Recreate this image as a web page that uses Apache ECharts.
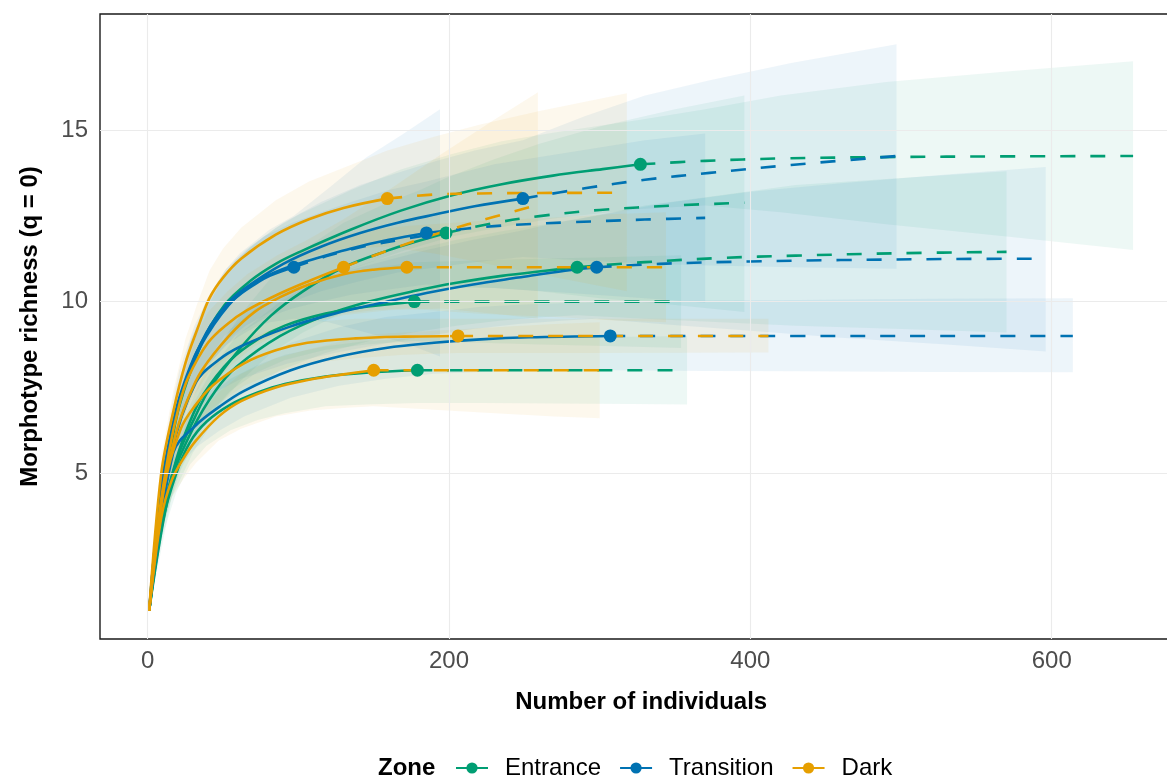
<!DOCTYPE html>
<html><head><meta charset="utf-8">
<script src="https://cdn.jsdelivr.net/npm/echarts@6/dist/echarts.min.js"></script>
<style>html,body{margin:0;padding:0;background:#fff;overflow:hidden;width:1167px;height:778px}#chart{width:1183px;height:778px}</style>
</head><body><div id="chart"></div>
<script>
// ---- data: each point is [individuals, estimate, lowerCI, upperCI] ----
const zones = ['Entrance', 'Transition', 'Dark'];

const entrance1 = [[1,1,1,1],[18,6.4,5.9,6.9],[35,8.7,7.95,9.45],[51,9.9,9.0,10.8],[68,10.6,9.6,11.6],[85,11.1,10.05,12.15],[101,11.45,10.35,12.55],[135,12.1,10.95,13.25],[168,12.65,11.45,13.85],[202,13.1,11.9,14.3],[235,13.42,12.17,14.67],[269,13.67,12.42,14.92],[302,13.86,12.58,15.14],[327,14.0,12.7,15.3],[370,14.1,12.8,15.6],[420,14.17,12.6,16.0],[490,14.21,12.25,16.4],[570,14.23,11.9,16.7],[654,14.24,11.5,17.0]];
const entrance2 = [[1,1,1,1],[11,4.0,3.6,4.4],[21,5.6,5.0,6.2],[31,6.6,5.9,7.3],[41,7.45,6.65,8.25],[62,8.67,7.7,9.64],[82,9.6,8.5,10.7],[103,10.3,9.1,11.5],[130,11.0,9.7,12.3],[160,11.5,10.1,12.9],[180,11.77,10.3,13.24],[198,12.0,10.4,13.6],[230,12.29,10.4,14.15],[260,12.49,10.3,14.6],[300,12.67,10.1,15.1],[350,12.8,9.9,15.6],[396,12.88,9.7,16.0]];
const entrance3 = [[1,1,1,1],[16,4.8,4.3,5.3],[30,6.3,5.6,7.0],[45,7.4,6.6,8.2],[59,8.1,7.2,9.0],[88,9.0,8.0,10.0],[118,9.6,8.5,10.7],[147,10.0,8.85,11.15],[176,10.3,9.1,11.5],[205,10.55,9.3,11.8],[235,10.75,9.45,12.05],[264,10.9,9.55,12.25],[285,11.0,9.6,12.4],[330,11.15,9.5,12.8],[380,11.27,9.4,13.1],[430,11.34,9.3,13.4],[500,11.41,9.2,13.6],[570,11.45,9.1,13.8]];
const entrance4 = [[1,1,1,1],[10,3.8,3.4,4.2],[19,5.4,4.8,6.0],[28,6.5,5.8,7.2],[37,7.3,6.5,8.1],[55,8.3,7.4,9.2],[73,8.9,7.95,9.85],[91,9.3,8.3,10.3],[118,9.65,8.6,10.7],[145,9.85,8.75,10.95],[177,10.0,8.85,11.15],[220,10.0,8.8,11.2],[260,10.0,8.75,11.25],[310,10.0,8.7,11.3],[354,10.0,8.65,11.35]];
const entrance5 = [[1,1,1,1],[10,3.6,3.2,4.0],[19,5.0,4.45,5.55],[28,5.9,5.25,6.55],[39,6.5,5.8,7.2],[55,7.0,6.25,7.75],[73,7.35,6.55,8.15],[91,7.6,6.75,8.45],[118,7.82,6.95,8.7],[145,7.93,7.0,8.85],[179,8.0,7.05,8.95],[220,8.0,7.05,8.95],[270,8.0,7.03,8.97],[320,8.0,7.02,8.98],[358,8.0,7.0,9.0]];

const transition1 = [[1,1,1,1],[6,3.4,3.0,3.8],[11,5.1,4.5,5.7],[16,6.3,5.6,7.0],[21,7.2,6.4,8.0],[31,8.4,7.5,9.3],[41,9.2,8.2,10.2],[51,9.8,8.7,10.9],[61,10.2,9.0,11.4],[71,10.5,9.25,11.75],[81,10.75,9.4,12.1],[97,11.0,9.5,12.5],[120,11.34,9.4,13.3],[145,11.62,9.1,14.2],[170,11.82,8.8,14.9],[194,12.0,8.4,15.6]];
const transition2 = [[1,1,1,1],[10,4.9,4.4,5.4],[20,6.9,6.2,7.6],[29,8.1,7.3,8.9],[39,9.0,8.1,9.9],[58,10.1,9.0,11.2],[77,10.7,9.5,11.9],[96,11.05,9.8,12.3],[115,11.3,10.0,12.6],[135,11.55,10.2,12.9],[160,11.8,10.35,13.25],[185,12.0,10.5,13.5],[230,12.2,10.4,14.0],[280,12.31,10.25,14.35],[330,12.39,10.1,14.7],[370,12.44,9.97,14.9]];
const transition3 = [[1,1,1,1],[14,5.8,5.2,6.4],[27,7.9,7.1,8.7],[39,9.1,8.15,10.05],[52,9.9,8.85,10.95],[65,10.4,9.3,11.5],[90,11.1,9.9,12.3],[115,11.6,10.3,12.9],[141,12.0,10.6,13.4],[166,12.3,10.85,13.75],[192,12.55,11.0,14.1],[217,12.78,11.15,14.4],[249,13.0,11.3,14.7],[290,13.3,11.2,15.4],[330,13.55,11.1,16.0],[373,13.75,11.05,16.45],[427,13.98,11.0,16.95],[497,14.24,10.96,17.5]];
const transition4 = [[1,1,1,1],[16,5.6,5.0,6.2],[32,7.65,6.85,8.45],[47,8.3,7.4,9.2],[62,8.7,7.75,9.65],[93,9.25,8.2,10.3],[124,9.65,8.5,10.8],[154,9.95,8.75,11.15],[185,10.25,9.0,11.5],[216,10.5,9.2,11.8],[246,10.7,9.35,12.05],[277,10.9,9.45,12.35],[298,11.0,9.5,12.5],[340,11.1,9.35,12.85],[400,11.17,9.15,13.2],[460,11.21,8.95,13.45],[530,11.24,8.75,13.7],[596,11.25,8.55,13.92]];
const transition5 = [[1,1,1,1],[17,5.6,5.0,6.2],[32,6.4,5.75,7.05],[48,6.95,6.25,7.65],[64,7.4,6.65,8.15],[95,8.0,7.2,8.8],[127,8.4,7.55,9.25],[158,8.65,7.75,9.55],[190,8.8,7.9,9.7],[221,8.9,7.95,9.85],[253,8.96,8.0,9.92],[307,9.0,8.0,10.0],[370,9.0,7.98,10.03],[430,9.0,7.97,10.05],[520,9.0,7.95,10.08],[614,9.0,7.94,10.1]];

const dark1 = [[1,1,1,1],[9,5.0,4.5,5.5],[17,6.8,6.2,7.4],[25,8.2,7.5,8.9],[33,9.2,8.45,9.95],[41,10.1,9.3,10.9],[50,10.7,9.85,11.55],[62,11.25,10.35,12.15],[85,11.95,10.95,12.95],[107,12.4,11.3,13.5],[130,12.73,11.55,13.9],[159,13.0,11.6,14.4],[190,13.12,11.4,14.8],[220,13.15,11.15,15.15],[260,13.165,10.8,15.55],[318,13.17,10.3,16.07]];
const dark2 = [[1,1,1,1],[7,3.6,3.2,4.0],[14,5.6,5.0,6.2],[21,7.0,6.3,7.7],[27,7.8,7.0,8.6],[40,8.8,7.9,9.7],[53,9.35,8.4,10.3],[66,9.75,8.7,10.8],[86,10.2,9.05,11.35],[106,10.58,9.35,11.8],[130,11.0,9.6,12.4],[160,11.5,9.75,13.25],[195,12.02,9.8,14.3],[230,12.47,9.65,15.3],[259,12.82,9.5,16.1]];
const dark3 = [[1,1,1,1],[10,4.4,3.95,4.85],[19,6.2,5.6,6.8],[27,7.2,6.5,7.9],[36,8.0,7.2,8.8],[54,9.0,8.1,9.9],[71,9.7,8.7,10.7],[89,10.15,9.1,11.2],[107,10.5,9.4,11.6],[130,10.8,9.65,11.95],[150,10.93,9.75,12.1],[172,11.0,9.8,12.2],[220,11.0,9.65,12.35],[270,11.0,9.55,12.45],[310,11.0,9.45,12.55],[344,11.0,9.4,12.6]];
const dark4 = [[1,1,1,1],[11,4.6,4.1,5.1],[22,6.3,5.7,6.9],[32,7.0,6.35,7.65],[43,7.55,6.9,8.2],[64,8.2,7.55,8.85],[85,8.58,7.93,9.23],[106,8.8,8.2,9.4],[138,8.93,8.35,9.5],[170,8.98,8.45,9.5],[206,9.0,8.5,9.5],[250,9.0,8.5,9.5],[300,9.0,8.5,9.5],[360,9.0,8.51,9.5],[412,9.0,8.52,9.5]];
const dark5 = [[1,1,1,1],[9,3.7,3.3,4.1],[16,4.8,4.3,5.3],[24,5.45,4.85,6.05],[32,5.95,5.3,6.6],[47,6.65,5.95,7.35],[62,7.1,6.3,7.9],[85,7.5,6.65,8.35],[108,7.73,6.83,8.63],[130,7.88,6.9,8.85],[150,8.0,6.95,9.05],[190,8.0,6.85,9.15],[230,8.0,6.75,9.25],[270,8.0,6.65,9.35],[300,8.0,6.6,9.4]];

// observed sample size (end of the solid rarefaction part) per curve
const entranceObs = [327, 198, 285, 177, 179];
const transitionObs = [97, 185, 249, 298, 307];
const darkObs = [159, 130, 172, 206, 150];

const xTicks = [0, 200, 400, 600];
const yTicks = [5, 10, 15];

// ---- styling ----
const zoneColors = {Entrance: '#009E73', Transition: '#0072B2', Dark: '#E69F00'};
const zoneFills = {Entrance: 'rgba(0,158,115,0.07)', Transition: 'rgba(0,114,178,0.07)', Dark: 'rgba(230,159,0,0.07)'};
const FONT = '"Liberation Sans", Arial, Helvetica, sans-serif';

const groups = [
  {zone: 'Entrance', curves: [entrance1, entrance2, entrance3, entrance4, entrance5], obs: entranceObs},
  {zone: 'Transition', curves: [transition1, transition2, transition3, transition4, transition5], obs: transitionObs},
  {zone: 'Dark', curves: [dark1, dark2, dark3, dark4, dark5], obs: darkObs}
];

const series = [];

// gridlines
series.push({
  type: 'line', name: 'grid', data: [], silent: true, z: 0,
  markLine: {
    silent: true, symbol: ['none', 'none'], label: {show: false},
    lineStyle: {color: '#EBEBEB', width: 1.1, type: 'solid'},
    emphasis: {disabled: true},
    data: xTicks.map(v => ({xAxis: v})).concat(yTicks.map(v => ({yAxis: v})))
  }
});

// confidence bands
const allBands = [];
groups.forEach(g => g.curves.forEach(c => allBands.push({zone: g.zone, curve: c})));
series.push({
  type: 'custom', name: 'bands', silent: true, z: 1,
  data: allBands.map((b, i) => [b.curve[0][0], b.curve[0][1], i]),
  encode: {x: 0, y: 1},
  renderItem: function (params, api) {
    const b = allBands[api.value(2)];
    const upper = b.curve.map(p => api.coord([p[0], p[3]]));
    const lower = b.curve.slice().reverse().map(p => api.coord([p[0], p[2]]));
    return {type: 'polygon', shape: {points: upper.concat(lower)}, style: {fill: zoneFills[b.zone], stroke: null}};
  }
});

// rarefaction (solid) and extrapolation (dashed) lines
groups.forEach(g => {
  const col = zoneColors[g.zone];
  g.curves.forEach((c, i) => {
    const obs = g.obs[i];
    series.push({
      type: 'line', name: g.zone + '-rare-' + i, z: 2, silent: true,
      data: c.filter(p => p[0] <= obs).map(p => [p[0], p[1]]),
      symbol: 'none', smooth: 0.35,
      lineStyle: {color: col, width: 2.6, join: 'round'}
    });
    series.push({
      type: 'line', name: g.zone + '-ext-' + i, z: 2, silent: true,
      data: c.filter(p => p[0] >= obs).map(p => [p[0], p[1]]),
      symbol: 'none', smooth: 0.35,
      lineStyle: {color: col, width: 2.6, type: [15, 15], cap: 'butt'}
    });
  });
});

// observed points
groups.forEach(g => {
  series.push({
    type: 'scatter', name: g.zone + '-obs', z: 3, silent: true,
    symbol: 'circle', symbolSize: 13,
    itemStyle: {color: zoneColors[g.zone], opacity: 1},
    data: g.curves.map((c, i) => {
      const p = c.find(q => q[0] === g.obs[i]);
      return [p[0], p[1]];
    })
  });
});

// legend proxies
zones.forEach(z => {
  series.push({
    type: 'line', name: z, data: [], symbol: 'circle', symbolSize: 13,
    itemStyle: {color: zoneColors[z]}, lineStyle: {color: zoneColors[z], width: 2.6}
  });
});

const chart = echarts.init(document.getElementById('chart'), null, {renderer: 'canvas'});
chart.setOption({
  animation: false,
  backgroundColor: '#ffffff',
  textStyle: {fontFamily: FONT},
  grid: {left: 100, right: 0.7, top: 14, bottom: 139, show: true, borderColor: '#1a1a1a', borderWidth: 1.4, backgroundColor: 'transparent'},
  xAxis: {
    type: 'value', min: -31.65, max: 686.65,
    axisLine: {show: false}, axisTick: {show: false}, splitLine: {show: false},
    axisLabel: {customValues: xTicks, fontSize: 24, color: '#4D4D4D', margin: 10, fontFamily: FONT},
    name: 'Number of individuals', nameLocation: 'middle', nameGap: 51,
    nameTextStyle: {fontSize: 24, fontWeight: 'bold', color: '#000', fontFamily: FONT}
  },
  yAxis: {
    type: 'value', min: 0.1725, max: 18.3775,
    axisLine: {show: false}, axisTick: {show: false}, splitLine: {show: false},
    axisLabel: {customValues: yTicks, fontSize: 24, color: '#4D4D4D', margin: 12, fontFamily: FONT},
    name: 'Morphotype richness (q = 0)', nameLocation: 'middle', nameGap: 58,
    nameTextStyle: {fontSize: 24, fontWeight: 'bold', color: '#000', fontFamily: FONT}
  },
  legend: {
    data: zones, left: 455, top: 756, orient: 'horizontal', padding: 0,
    itemWidth: 32, itemHeight: 14, itemGap: 18,
    textStyle: {fontSize: 24, color: '#000', fontFamily: FONT, padding: [0, 0, 0, 12]},
    selectedMode: false
  },
  graphic: [{
    type: 'text', left: 378, top: 756,
    style: {text: 'Zone', fontSize: 24, fontWeight: 'bold', fill: '#000', font: 'bold 24px ' + FONT}
  }],
  series: series
});
</script>
</body></html>
